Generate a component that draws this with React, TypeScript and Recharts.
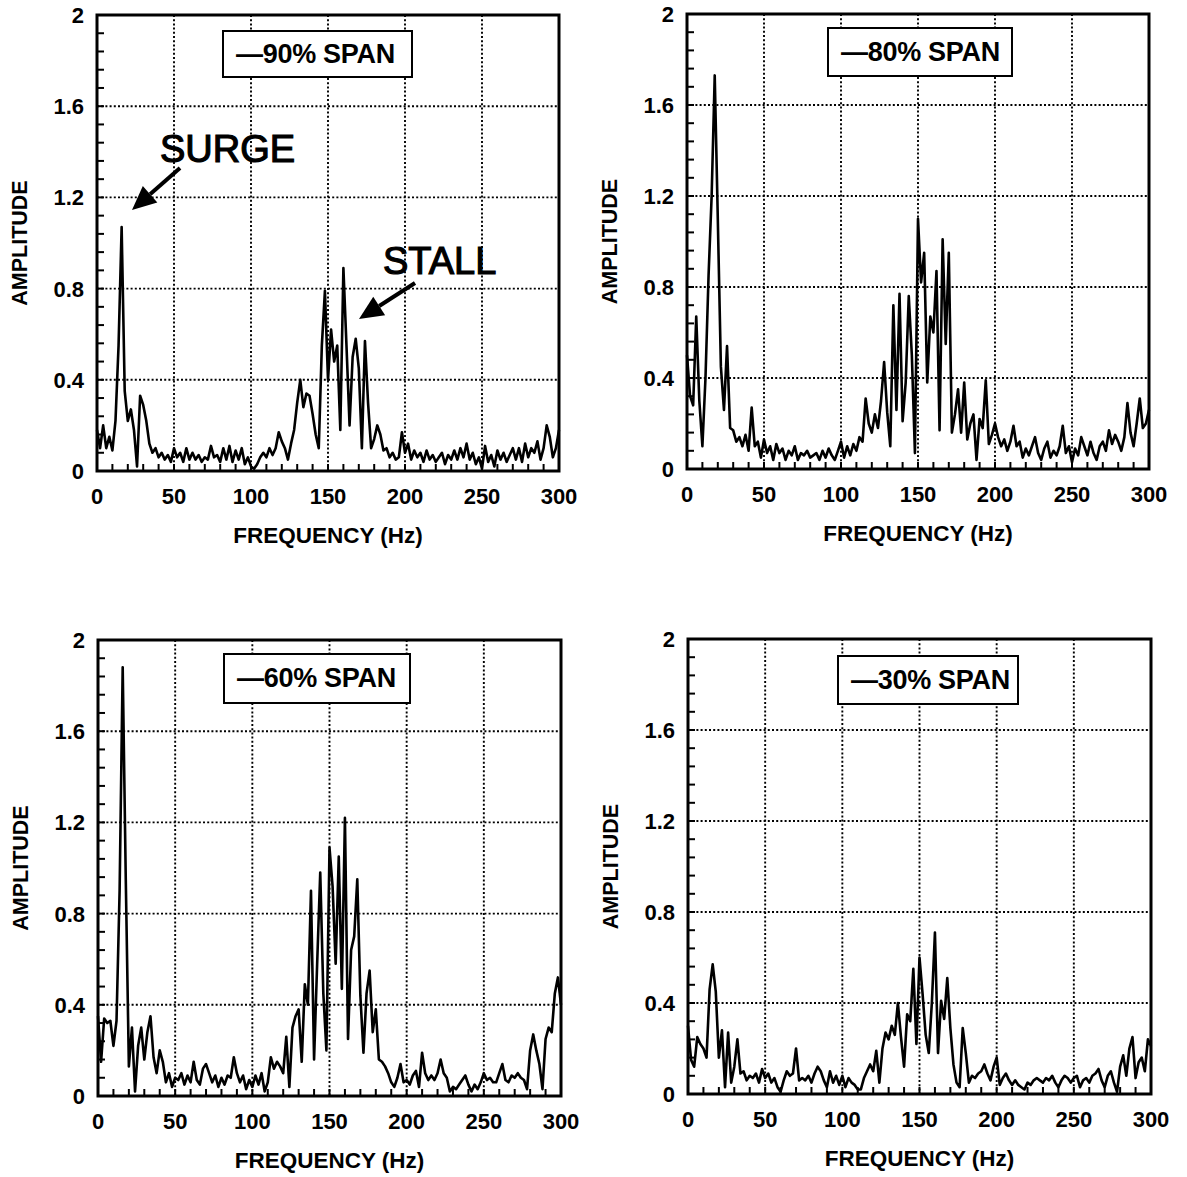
import { CartesianGrid, Line, LineChart, ReferenceArea, XAxis, YAxis } from "recharts";

// spectra sampled on a 2 Hz grid, 0..300 Hz
const FREQ_HZ = Array.from({ length: 151 }, (_, i) => i * 2);

const SPAN_90 = [
  0.18, 0.1, 0.2, 0.1, 0.15, 0.09, 0.22, 0.55, 1.07, 0.35,
  0.22, 0.27, 0.18, 0.02, 0.33, 0.29, 0.22, 0.12, 0.08, 0.1,
  0.06, 0.08, 0.05, 0.07, 0.04, 0.1, 0.06, 0.08, 0.04, 0.1,
  0.05, 0.08, 0.05, 0.07, 0.04, 0.06, 0.05, 0.11, 0.06, 0.07,
  0.04, 0.1, 0.05, 0.11, 0.04, 0.09, 0.05, 0.1, 0.03, 0.06,
  0.02, 0.01, 0.03, 0.06, 0.08, 0.06, 0.1, 0.07, 0.1, 0.17,
  0.13, 0.1, 0.05, 0.12, 0.18, 0.3, 0.4, 0.28, 0.34, 0.33,
  0.25, 0.16, 0.1, 0.55, 0.79, 0.4, 0.62, 0.48, 0.55, 0.18,
  0.89, 0.55, 0.2, 0.5, 0.58, 0.45, 0.1, 0.57, 0.3, 0.1,
  0.14, 0.2, 0.16, 0.09, 0.1, 0.06, 0.08, 0.05, 0.06, 0.17,
  0.08, 0.12, 0.05, 0.09, 0.06, 0.08, 0.04, 0.09, 0.05, 0.07,
  0.04, 0.06, 0.08, 0.03, 0.07, 0.05, 0.09, 0.05, 0.1, 0.06,
  0.12, 0.05, 0.08, 0.03, 0.06, 0.01, 0.11, 0.04, 0.07, 0.02,
  0.09, 0.05, 0.08, 0.04, 0.07, 0.1, 0.05, 0.1, 0.04, 0.12,
  0.06, 0.1, 0.08, 0.13, 0.05, 0.1, 0.2, 0.15, 0.06, 0.1,
  0.18,
];

const SPAN_80 = [
  0.5, 0.32, 0.28, 0.67, 0.3, 0.1, 0.4, 0.85, 1.2, 1.73,
  1.1, 0.45, 0.26, 0.54, 0.18, 0.17, 0.12, 0.14, 0.1, 0.15,
  0.08, 0.27, 0.1, 0.12, 0.05, 0.13, 0.07, 0.1, 0.04, 0.11,
  0.07, 0.09, 0.04, 0.08, 0.06, 0.1, 0.04, 0.07, 0.06, 0.08,
  0.05, 0.06, 0.07, 0.04, 0.08, 0.05, 0.09, 0.06, 0.04, 0.08,
  0.12, 0.05, 0.1, 0.06, 0.11, 0.08, 0.14, 0.12, 0.31, 0.2,
  0.16, 0.24, 0.18, 0.3, 0.47, 0.25, 0.1, 0.72, 0.26, 0.77,
  0.21, 0.38, 0.76, 0.5, 0.07, 1.1, 0.82, 0.95, 0.38, 0.67,
  0.6, 0.87, 0.17, 1.01, 0.55, 0.95, 0.16, 0.24, 0.35, 0.16,
  0.38, 0.13, 0.2, 0.24, 0.04, 0.22, 0.18, 0.39, 0.11, 0.15,
  0.2, 0.14, 0.1, 0.13, 0.08, 0.12, 0.19, 0.1, 0.12, 0.05,
  0.09, 0.06, 0.1, 0.14, 0.07, 0.04, 0.09, 0.12, 0.05, 0.08,
  0.06, 0.1, 0.19, 0.07, 0.1, 0.03, 0.09, 0.06, 0.14, 0.1,
  0.06, 0.12, 0.07, 0.04, 0.1, 0.12, 0.08, 0.17, 0.11, 0.15,
  0.12, 0.08, 0.14, 0.29, 0.16, 0.1, 0.2, 0.31, 0.18, 0.2,
  0.26,
];

const SPAN_60 = [
  0.35, 0.15, 0.34, 0.32, 0.33, 0.22, 0.33, 0.9, 1.88, 0.95,
  0.13, 0.3, 0.02, 0.22, 0.3, 0.16, 0.28, 0.35, 0.17, 0.1,
  0.2, 0.15, 0.06, 0.1, 0.04, 0.08, 0.07, 0.1, 0.05, 0.09,
  0.06, 0.15, 0.07, 0.05, 0.12, 0.14, 0.1, 0.06, 0.09, 0.04,
  0.08, 0.05, 0.09, 0.08, 0.17, 0.1, 0.06, 0.09, 0.03, 0.07,
  0.04, 0.09, 0.05, 0.1, 0.02, 0.06, 0.17, 0.12, 0.15, 0.13,
  0.1, 0.26, 0.04, 0.3, 0.35, 0.38, 0.15, 0.49, 0.4, 0.9,
  0.16, 0.58, 0.98, 0.45, 0.2, 1.09, 0.92, 0.58, 1.05, 0.47,
  1.22, 0.25, 0.64, 0.7, 0.95, 0.44, 0.19, 0.45, 0.55, 0.28,
  0.38, 0.16, 0.15, 0.13, 0.1, 0.06, 0.04, 0.08, 0.14, 0.06,
  0.07, 0.05, 0.09, 0.11, 0.04, 0.19, 0.1, 0.07, 0.09, 0.07,
  0.1, 0.16, 0.1, 0.08, 0.02, 0.04, 0.03, 0.05, 0.07, 0.09,
  0.05, 0.02, 0.05, 0.03, 0.06, 0.1, 0.07, 0.08, 0.06, 0.06,
  0.1, 0.14, 0.07, 0.06, 0.09, 0.08, 0.1, 0.08, 0.07, 0.03,
  0.2, 0.27, 0.2, 0.14, 0.03, 0.25, 0.3, 0.28, 0.45, 0.52,
  0.4,
];

const SPAN_30 = [
  0.3, 0.15, 0.12, 0.25, 0.22, 0.2, 0.16, 0.46, 0.57, 0.45,
  0.16, 0.28, 0.03, 0.27, 0.05, 0.12, 0.24, 0.09, 0.1, 0.06,
  0.08, 0.07, 0.09, 0.05, 0.11, 0.07, 0.09, 0.05, 0.07, 0.03,
  0.01, 0.06, 0.1, 0.08, 0.09, 0.2, 0.06, 0.07, 0.06, 0.08,
  0.05, 0.09, 0.12, 0.1, 0.06, 0.03, 0.1, 0.05, 0.08, 0.04,
  0.08, 0.03, 0.07, 0.05, 0.04, 0.02, 0.02, 0.07, 0.1, 0.13,
  0.1, 0.19, 0.05, 0.2, 0.27, 0.24, 0.3, 0.26, 0.4, 0.25,
  0.12, 0.35, 0.32, 0.55, 0.22, 0.6, 0.44, 0.26, 0.18, 0.4,
  0.71, 0.18, 0.41, 0.33, 0.51, 0.29, 0.13, 0.05, 0.03, 0.29,
  0.18, 0.05, 0.08, 0.07, 0.09, 0.1, 0.13, 0.09, 0.06, 0.12,
  0.16, 0.04, 0.07, 0.09, 0.06, 0.04, 0.06, 0.04, 0.03, 0.02,
  0.05, 0.04, 0.06, 0.07, 0.06, 0.05, 0.07, 0.06, 0.08, 0.05,
  0.03, 0.06, 0.08, 0.07, 0.05, 0.07, 0.08, 0.03, 0.06, 0.07,
  0.05, 0.08, 0.09, 0.11, 0.06, 0.03, 0.08, 0.1, 0.05, 0.01,
  0.12, 0.17, 0.08, 0.2, 0.25, 0.07, 0.14, 0.16, 0.1, 0.24,
  0.21,
];

const SERIES = [SPAN_90, SPAN_80, SPAN_60, SPAN_30];
const SERIES_LABELS = ["90% SPAN", "80% SPAN", "60% SPAN", "30% SPAN"];

const X_TICKS = [0, 50, 100, 150, 200, 250, 300];
const Y_TICKS = [0, 0.4, 0.8, 1.2, 1.6, 2];
const X_MINOR = Array.from({ length: 31 }, (_, i) => i * 10);
const Y_MINOR = Array.from({ length: 26 }, (_, i) => Number((i * 0.08).toFixed(2)));

const FONT = '"Liberation Sans", Arial, Helvetica, sans-serif';
const PAD_LEFT = 97;
const PAD_TOP = 15;
const PAD_RIGHT = 30;
const PAD_BOTTOM = 85;

type PanelLayout = {
  left: number;
  top: number;
  width: number;
  height: number;
  box: [number, number, number, number];
};

const LAYOUT: PanelLayout[] = [
  { left: 97, top: 15, width: 462, height: 456, box: [222, 30, 191, 48] },
  { left: 687, top: 14, width: 462, height: 455, box: [827, 27, 186, 50] },
  { left: 98, top: 640, width: 463, height: 456, box: [223, 653, 188, 51] },
  { left: 688, top: 639, width: 463, height: 455, box: [837, 655, 182, 50] },
];

// inner tick marks every 10 Hz, numbers only at the 50 Hz lines
function XTick({ x, y, payload }: any) {
  const v = payload.value;
  return (
    <g>
      <line x1={x} x2={x} y1={y} y2={y - 7} stroke="#000" strokeWidth={2} />
      {X_TICKS.includes(v) && (
        <text x={x} y={y + 33} textAnchor="middle" fontFamily={FONT} fontWeight="bold" fontSize={22} fill="#000">
          {v}
        </text>
      )}
    </g>
  );
}

function YTick({ x, y, payload }: any) {
  const v = payload.value;
  const major = Y_TICKS.some((t) => Math.abs(t - v) < 1e-6);
  const text = v === 0 || v === 2 ? String(v) : v.toFixed(1);
  return (
    <g>
      <line x1={x} x2={x + 7} y1={y} y2={y} stroke="#000" strokeWidth={2} />
      {major && (
        <text x={x - 13} y={y} dy="0.36em" textAnchor="end" fontFamily={FONT} fontWeight="bold" fontSize={22} fill="#000">
          {text}
        </text>
      )}
    </g>
  );
}

function Panel({ values, layout }: { values: number[]; layout: PanelLayout }) {
  const data = FREQ_HZ.map((f, i) => ({ f, a: values[i] }));
  const { width, height } = layout;

  return (
    <div style={{ position: "absolute", left: layout.left - PAD_LEFT, top: layout.top - PAD_TOP }}>
      <LineChart
        width={PAD_LEFT + width + PAD_RIGHT}
        height={PAD_TOP + height + PAD_BOTTOM}
        data={data}
        margin={{ top: PAD_TOP, right: PAD_RIGHT, bottom: 0, left: 0 }}
        style={{ overflow: "visible" }}
      >
        <CartesianGrid
          horizontalValues={[0.4, 0.8, 1.2, 1.6]}
          verticalValues={[50, 100, 150, 200, 250]}
          stroke="#000"
          strokeWidth={1.9}
          strokeDasharray="2 2.2"
        />
        <ReferenceArea x1={0} x2={300} y1={0} y2={2} fill="none" stroke="#000" strokeWidth={3} ifOverflow="visible" />
        <Line
          type="linear"
          dataKey="a"
          stroke="#000"
          strokeWidth={2.6}
          strokeLinejoin="round"
          dot={false}
          activeDot={false}
          isAnimationActive={false}
        />
        <XAxis
          type="number"
          dataKey="f"
          domain={[0, 300]}
          ticks={X_MINOR}
          interval={0}
          tick={XTick}
          tickLine={false}
          axisLine={false}
          tickSize={0}
          tickMargin={0}
          height={PAD_BOTTOM}
          label={{
            content: () => (
              <text
                x={PAD_LEFT + width / 2}
                y={PAD_TOP + height + 72}
                textAnchor="middle"
                fontFamily={FONT}
                fontWeight="bold"
                fontSize={22.5}
                fill="#000"
              >
                FREQUENCY (Hz)
              </text>
            ),
          }}
        />
        <YAxis
          type="number"
          domain={[0, 2]}
          ticks={Y_MINOR}
          interval={0}
          tick={YTick}
          tickLine={false}
          axisLine={false}
          tickSize={0}
          tickMargin={0}
          width={PAD_LEFT}
          label={{
            content: () => (
              <text
                x={PAD_LEFT - 77}
                y={PAD_TOP + height / 2}
                transform={`rotate(-90 ${PAD_LEFT - 77} ${PAD_TOP + height / 2})`}
                textAnchor="middle"
                dominantBaseline="central"
                fontFamily={FONT}
                fontWeight="bold"
                fontSize={21.5}
                fill="#000"
              >
                AMPLITUDE
              </text>
            ),
          }}
        />
      </LineChart>
    </div>
  );
}

function Arrow({ from, to }: { from: [number, number]; to: [number, number] }) {
  const dx = to[0] - from[0];
  const dy = to[1] - from[1];
  const len = Math.hypot(dx, dy);
  const ux = dx / len;
  const uy = dy / len;
  const headLen = 24;
  const half = 11;
  const bx = to[0] - ux * headLen;
  const by = to[1] - uy * headLen;
  const pts = `${to[0]},${to[1]} ${bx - uy * half},${by + ux * half} ${bx + uy * half},${by - ux * half}`;
  return (
    <g>
      <line x1={from[0]} y1={from[1]} x2={bx} y2={by} stroke="#000" strokeWidth={4} />
      <polygon points={pts} fill="#000" />
    </g>
  );
}

export default function App() {
  return (
    <div style={{ position: "absolute", left: 0, top: 0, width: 1187, height: 1177, background: "#fff" }}>
      {SERIES.map((values, i) => (
        <Panel key={SERIES_LABELS[i]} values={values} layout={LAYOUT[i]} />
      ))}
      {LAYOUT.map((l, i) => (
        <div
          key={SERIES_LABELS[i]}
          style={{
            position: "absolute",
            left: l.box[0],
            top: l.box[1],
            width: l.box[2],
            height: l.box[3],
            border: "2.5px solid #000",
            boxSizing: "border-box",
            background: "#fff",
            display: "flex",
            alignItems: "center",
            paddingLeft: 12,
            fontFamily: FONT,
            fontWeight: "bold",
            fontSize: 27,
            letterSpacing: -0.3,
            whiteSpace: "nowrap",
            color: "#000",
          }}
        >
          {"\u2014" + SERIES_LABELS[i]}
        </div>
      ))}
      <svg width={1187} height={1177} style={{ position: "absolute", left: 0, top: 0, pointerEvents: "none" }}>
        <text x={160} y={162} fontFamily={FONT} fontSize={38} fill="#000" stroke="#000" strokeWidth={1.2}>
          SURGE
        </text>
        <Arrow from={[180, 168]} to={[132, 210]} />
        <text x={383} y={274} fontFamily={FONT} fontSize={38} fill="#000" stroke="#000" strokeWidth={1.2}>
          STALL
        </text>
        <Arrow from={[415, 283]} to={[359, 319]} />
      </svg>
    </div>
  );
}
